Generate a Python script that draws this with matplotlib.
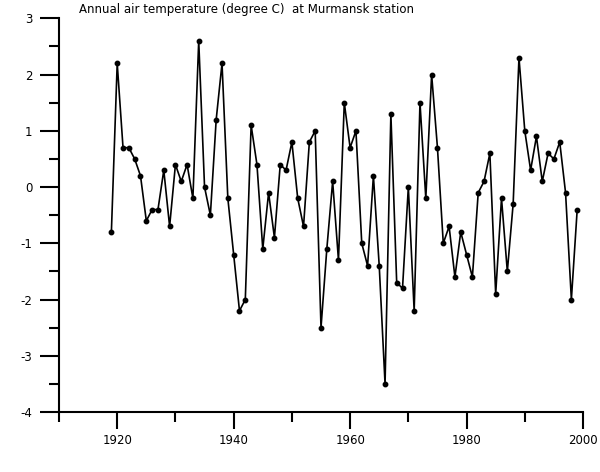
import numpy as np
import matplotlib
matplotlib.use("Agg")
import matplotlib.pyplot as plt
from matplotlib.ticker import MultipleLocator

plt.rcParams["axes.unicode_minus"] = False

years = list(range(1919, 2000))
temps = [
    -0.8, 2.2, 0.7, 0.7, 0.5, 0.2, -0.6, -0.4, -0.4, 0.3,   # 1919-1928
    -0.7, 0.4, 0.1, 0.4, -0.2, 2.6, 0.0, -0.5, 1.2, 2.2,    # 1929-1938
    -0.2, -1.2, -2.2, -2.0, 1.1, 0.4, -1.1, -0.1, -0.9, 0.4,  # 1939-1948
    0.3, 0.8, -0.2, -0.7, 0.8, 1.0, -2.5, -1.1, 0.1, -1.3,  # 1949-1958
    1.5, 0.7, 1.0, -1.0, -1.4, 0.2, -1.4, -3.5, 1.3, -1.7,  # 1959-1968
    -1.8, 0.0, -2.2, 1.5, -0.2, 2.0, 0.7, -1.0, -0.7, -1.6,  # 1969-1978
    -0.8, -1.2, -1.6, -0.1, 0.1, 0.6, -1.9, -0.2, -1.5, -0.3,  # 1979-1988
    2.3, 1.0, 0.3, 0.9, 0.1, 0.6, 0.5, 0.8, -0.1, -2.0,     # 1989-1998
    -0.4,                                                   # 1999
]
x_ticks = [1920, 1940, 1960, 1980, 2000]
title = "Annual air temperature (degree C)  at Murmansk station"

fig = plt.figure(figsize=(6.0, 4.72), dpi=100)
ax = fig.add_axes([0.0983, 0.1271, 0.8734, 0.834])

ax.plot(years, temps, color="black", lw=1.2, marker="o", ms=3.2)

ax.set_xlim(1910, 2000)
ax.set_ylim(-4, 3)
ax.xaxis.set_minor_locator(MultipleLocator(10))
ax.yaxis.set_major_locator(MultipleLocator(1))
ax.yaxis.set_minor_locator(MultipleLocator(0.5))
ax.set_xticks(x_ticks)
ax.set_xticklabels([str(v) for v in x_ticks])

for s in ("top", "right"):
    ax.spines[s].set_visible(False)
for s in ("left", "bottom"):
    ax.spines[s].set_linewidth(1.5)

ax.tick_params(which="both", width=1.5, direction="out", labelsize=8.5)
ax.tick_params(axis="x", which="major", length=12, pad=4)
ax.tick_params(axis="x", which="minor", length=7)
ax.tick_params(axis="y", which="major", length=14, pad=5)
ax.tick_params(axis="y", which="minor", length=7)

fig.text(79 / 600, 1 - 10 / 472, title, fontsize=8.5, ha="left", va="center")

fig.savefig("out.png", dpi=100)
